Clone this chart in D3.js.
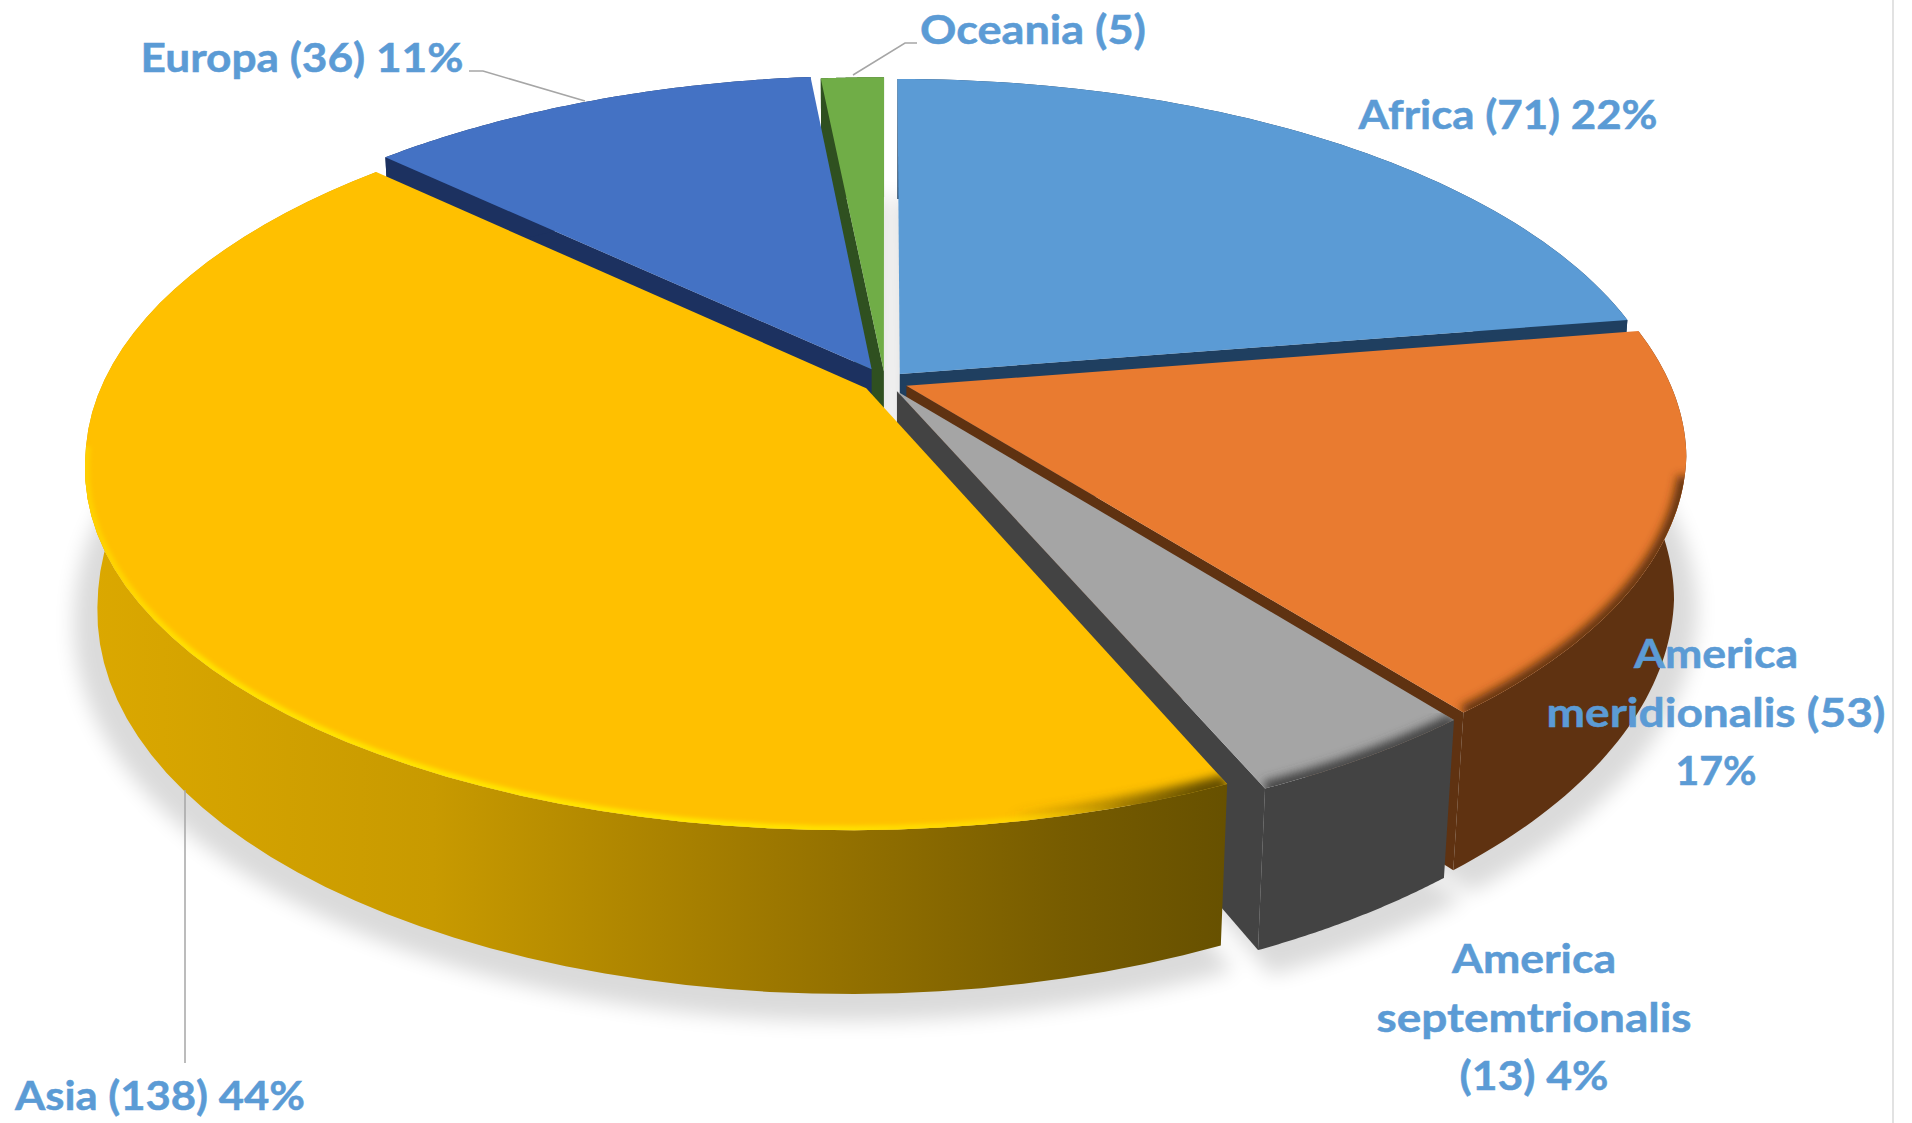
<!DOCTYPE html>
<html><head><meta charset="utf-8">
<script src="https://cdnjs.cloudflare.com/ajax/libs/d3/7.8.5/d3.min.js"></script>
<style>html,body{margin:0;padding:0;background:#fff;overflow:hidden}svg{display:block}text{font-family:Lato,sans-serif;font-weight:700;fill:#5b9bd5;stroke:#5b9bd5;stroke-width:.5}</style>
</head><body><svg id="c" width="1912" height="1123"></svg>
<script>
// data (clockwise from 12 o'clock)
const categories=["Africa","America meridionalis","America septemtrionalis","Asia","Europa","Oceania"];
const values=[71,53,13,138,36,5];
const topColors=["#5b9bd5","#e97b30","#a5a5a5","#ffc000","#4472c4","#70ad47"];
const wallColors=["#1f3f60","#5f3211","#434343","url(#asiaWall)","#1c3160","#2f5020"];
const labelLines=[["Africa (71) 22%"],["America","meridionalis (53)","17%"],["America","septemtrionalis","(13) 4%"],["Asia (138) 44%"],["Europa (36) 11%"],["Oceania (5)"]];
const labelWidths=[[299],[164,339,81],[164,315,149],[290],[323],[226]];
const labelAnchor=[[1508,129],[1716,668],[1534,973],[160,1110],[302,72],[1033,44]];
const labelStep=58.5;
const leaders=[[[853,75],[905,43],[917,43]],[[469,71],[483,71],[585,101]],[[185,790],[185,1063]]];
const drawOrder=[5,4,0,1,2,3];
const explodeBy=[.03,.03,.03,.03,.04,.03];
const sideWall=["last","last","last",null,"first","first"];
const frontFrom=[9,.25,.1,.17,9,9];

// projection of the tilted pie
const cx=885,cy=382,kx=763,ky=354.5,persp=.192,depth=141,conv=.015,shear=13;
const project=(u,v,z)=>{const w=1-persp*v+conv*z;return [cx+kx*u/w-shear*Math.max(0,v-.2)*1.25,cy+(ky*v+depth*z)/w];};

const svg=d3.select("#c"),defs=svg.append("defs");
const line=d3.line();
const slices=d3.pie().sort(null).value(d=>d)(values);
const steps=a=>d3.range(0,61).map(i=>a.startAngle+(a.endAngle-a.startAngle)*i/60);

const blur=(id,s)=>defs.append("filter").attr("id",id).attr("x","-10%").attr("y","-10%").attr("width","120%").attr("height","120%")
  .append("feGaussianBlur").attr("stdDeviation",s);
blur("shadowBlur",10);blur("rimBlur",5);blur("rimGlow",2.2);

const grad=(id,x1,x2,stops)=>{const g=defs.append("linearGradient").attr("id",id).attr("gradientUnits","userSpaceOnUse")
  .attr("x1",x1).attr("x2",x2).attr("y1",0).attr("y2",0);
  stops.forEach(s=>{g.append("stop").attr("offset",s[0]).attr("stop-color",s[1]).attr("stop-opacity",s[2]===undefined?1:s[2]);});};
grad("asiaWall",90,1235,[[0,"#dba800"],[.3,"#c89a00"],[.6,"#9c7700"],[.85,"#775c00"],[1,"#665000"]]);
grad("asiaRim",85,1240,[[0,"#ffd000"],[.1,"#ffe200"],[.55,"#ffe600"],[.78,"#ffd800"],[.9,"#ffd000",0],[1,"#ffd000",0]]);
grad("asiaDark",1010,1200,[[0,"#665000",0],[1,"#665000",1]]);

const geom=slices.map((a,i)=>{
  const mid=(a.startAngle+a.endAngle)/2;
  const ox=Math.sin(mid)*explodeBy[i],oy=-Math.cos(mid)*explodeBy[i];
  const pt=(t,r,z)=>project(ox+Math.sin(t)*r,oy-Math.cos(t)*r,z);
  return {a,ox,oy,pt,angles:steps(a)};
});

// soft ground shadow
const sh=svg.append("g").attr("opacity",.14).attr("filter","url(#shadowBlur)");
geom.forEach(g=>{
  const p=g.angles.map(t=>g.pt(t,1.03,1.06));
  p.push(project(g.ox,g.oy,1.06));
  sh.append("path").attr("d",line(p)+"Z").attr("fill","#000");
});

const root=svg.append("g");
drawOrder.forEach(i=>{
  const g=geom[i],G=root.append("g"),ap=z=>project(g.ox,g.oy,z),c=wallColors[i];
  if(sideWall[i]){
    const t=sideWall[i]==="first"?g.angles[0]:g.angles[60];
    G.append("path").attr("d",line([ap(0),g.pt(t,1,0),g.pt(t,1,1),ap(1)])+"Z").attr("fill",c);
  }
  const rimTop=g.angles.map(t=>g.pt(t,1,0)),rimBot=g.angles.map(t=>g.pt(t,1,1)).reverse();
  G.append("path").attr("d",line(rimTop.concat(rimBot))+"Z").attr("fill",c);
  const topPoly=line(rimTop.concat([ap(0)]))+"Z";
  G.append("path").attr("d",topPoly).attr("fill",topColors[i]);
  // bevel along the front-facing part of the rim
  const front=g.angles.filter(t=>(g.oy-Math.cos(t))>frontFrom[i]);
  if(front.length>1){
    const id="clip"+i;
    defs.append("clipPath").attr("id",id).append("path").attr("d",topPoly);
    const rim=line(front.map(t=>g.pt(t,1,0)));
    const H=G.append("g").attr("clip-path",`url(#${id})`);
    if(i===3){
      H.append("path").attr("d",rim).attr("fill","none").attr("stroke","url(#asiaDark)").attr("stroke-width",20).attr("filter","url(#rimBlur)");
      H.append("path").attr("d",rim).attr("fill","none").attr("stroke","url(#asiaRim)").attr("stroke-width",9).attr("filter","url(#rimGlow)");
    }else{
      H.append("path").attr("d",rim).attr("fill","none").attr("stroke",c).attr("stroke-width",14).attr("filter","url(#rimBlur)");
    }
  }
});

// faint frame line at the right of the picture
svg.append("line").attr("x1",1893).attr("x2",1893).attr("y1",0).attr("y2",1123).attr("stroke","#e2e2e2").attr("stroke-width",2);

// leader lines
leaders.forEach(l=>svg.append("path").attr("d",line(l)).attr("fill","none").attr("stroke","#a6a6a6").attr("stroke-width",1.5));

// labels
labelLines.forEach((ls,i)=>{
  ls.forEach((s,j)=>svg.append("text").attr("text-anchor","middle").attr("font-size",41)
    .attr("x",labelAnchor[i][0]).attr("y",labelAnchor[i][1]+j*labelStep)
    .attr("textLength",labelWidths[i][j]).attr("lengthAdjust","spacingAndGlyphs").text(s));
});
</script></body></html>
